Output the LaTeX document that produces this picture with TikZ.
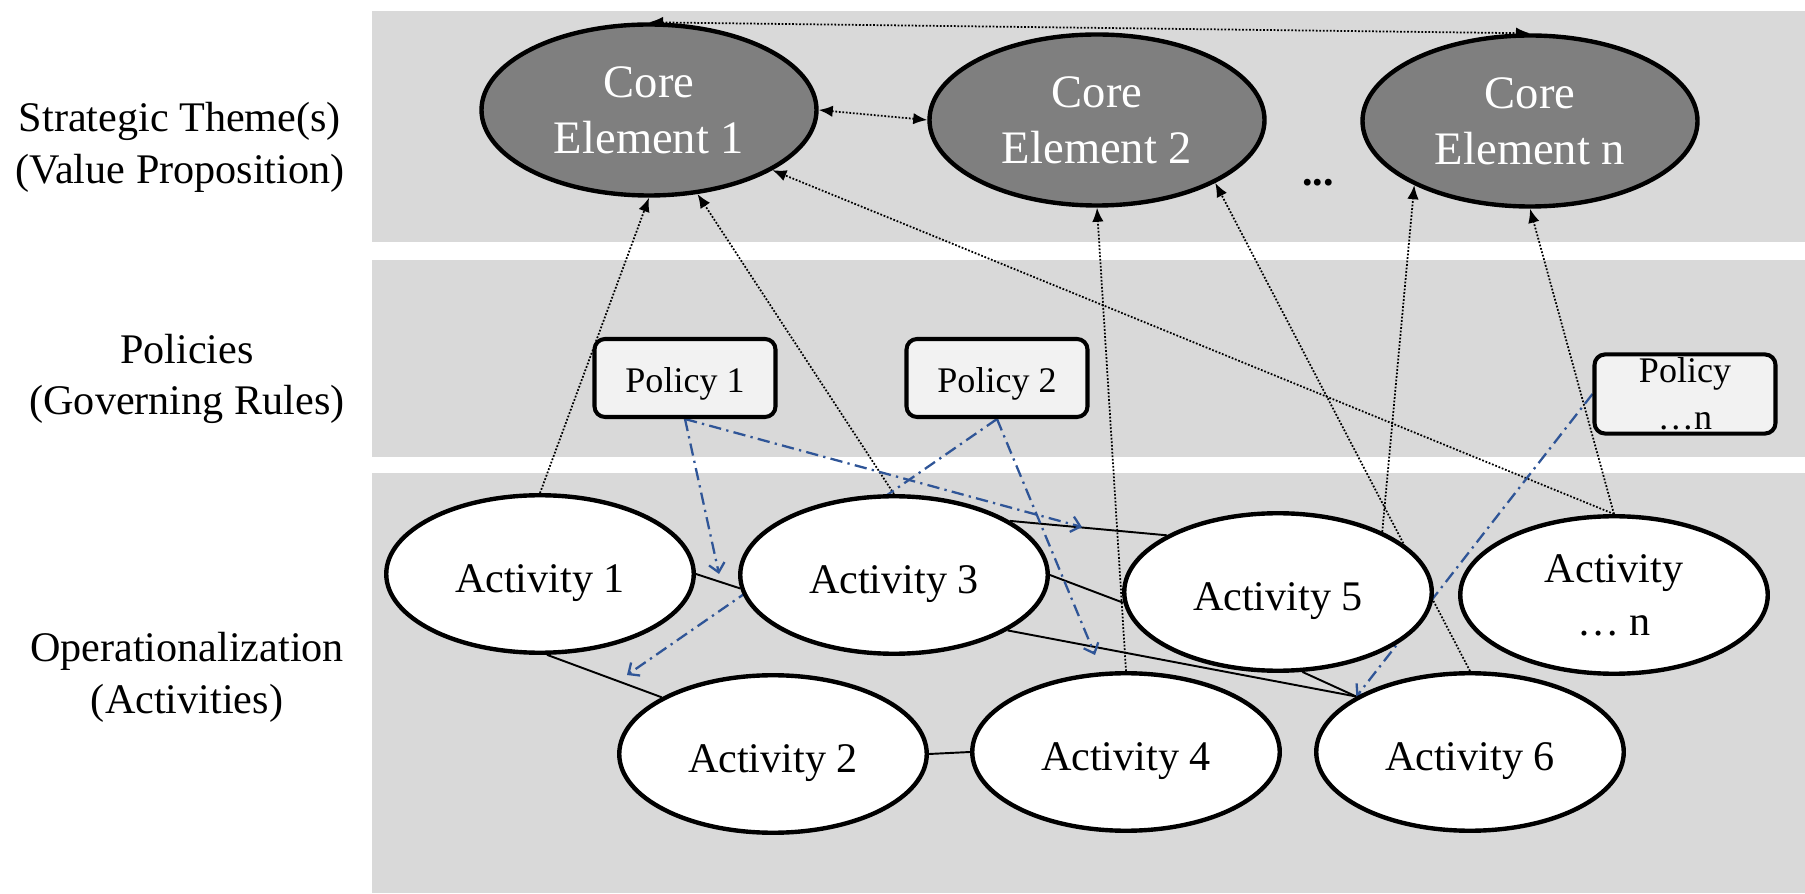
\documentclass[tikz,border=0pt]{standalone}
\usepackage{xcolor}
\usepackage{fontspec}
\setmainfont{Liberation Serif}
\usepackage{tikz}
\usetikzlibrary{arrows.meta}
\usetikzlibrary{shapes.geometric, backgrounds}
\definecolor{bandgray}{RGB}{217,217,217}
\definecolor{coregray}{RGB}{127,127,127}
\definecolor{policygray}{RGB}{242,242,242}
\definecolor{policyblue}{RGB}{47,85,151}
\pgfdeclarelayer{bands}
\pgfdeclarelayer{links}
\pgfsetlayers{bands,links,main}
\tikzset{
band/.style = { fill = bandgray, draw = none },
core/.style = { ellipse, draw = black, line width = 2.5pt, fill = coregray, text = white, minimum width = 6.7cm, minimum height = 3.42cm, align = center, font = \fontsize{26.5}{32}\selectfont },
activity/.style = { ellipse, draw = black, line width = 2.5pt, fill = white, minimum width = 6.15cm, minimum height = 3.15cm, align = center, font = \fontsize{24}{30}\selectfont },
one line/.style = { text height = 26pt, text depth = 5pt },
policy/.style = { rectangle, draw = black, line width = 2.3pt, fill = policygray, minimum width = 3.62cm, minimum height = 1.56cm, rounded corners = 6pt, inner sep = 2pt, align = center, font = \fontsize{20.5}{26.5}\selectfont },
layer label/.style = { align = center, font = \fontsize{24}{29.5}\selectfont },
}
\tikzset{
link/.style = { line width = 1pt, dash pattern = on 1pt off 1pt, -{Latex[length = 8pt, width = 6.5pt]} },
both link/.style = { line width = 1pt, dash pattern = on 1pt off 1pt, {Latex[length = 8pt, width = 6.5pt]}-{Latex[length = 8pt, width = 6.5pt]} },
tie/.style = { line width = 1.1pt },
governs/.style = { draw = policyblue, line width = 1.3pt, dash pattern = on 7pt off 3pt on 1.3pt off 3pt, -{Straight Barb[length = 5pt, width = 9pt]} },
}

\begin{document}
\begin{tikzpicture}
      \useasboundingbox (0,0) rectangle (36.1,17.86);
      \begin{pgfonlayer}{bands}
        \fill[band] (7.44,13.02) rectangle (36.1,17.64);
        \fill[band] (7.44,8.72) rectangle (36.1,12.66);
        \fill[band] (7.44,0) rectangle (36.1,8.4);
      \end{pgfonlayer}
      \node[layer label] (lstrat) at (3.6,14.92) {Strategic Theme(s)\\(Value Proposition)};
      \node[layer label] (lpol) at (3.74,10.28) {Policies\\(Governing Rules)};
      \node[layer label] (lop) at (3.74,4.32) {Operationalization\\(Activities)};
      \node[core] (core1) at (12.98,15.66) {Core\\Element 1};
      \node[core] (core2) at (21.94,15.46) {Core\\Element 2};
      \node[core] (coren) at (30.6,15.44) {Core\\Element n};
      \node[font = \fontsize{24}{29}\selectfont\bfseries] (cdots) at (26.36,14.2) {...};
      \node[policy, text height = 20.5pt, text depth = 4.5pt] (pol1) at (13.7,10.3) {Policy 1};
      \node[policy, text height = 20.5pt, text depth = 4.5pt] (pol2) at (19.94,10.3) {Policy 2};
      \node[policy] (poln) at (33.7,9.98) {Policy\\…n};
      \node[activity, one line] (act1) at (10.8,6.38) {Activity 1};
      \node[activity, one line] (act3) at (17.88,6.36) {Activity 3};
      \node[activity, one line] (act5) at (25.56,6.02) {Activity 5};
      \node[activity] (actn) at (32.28,5.96) {Activity\\… n};
      \node[activity, one line] (act2) at (15.46,2.78) {Activity 2};
      \node[activity, one line] (act4) at (22.52,2.82) {Activity 4};
      \node[activity, one line] (act6) at (29.4,2.82) {Activity 6};
      \coordinate (t1) at (14.38,6.38);
      \coordinate (t2) at (21.64,7.32);
      \coordinate (t3) at (12.54,4.36);
      \coordinate (t4) at (21.9,4.76);
      \begin{pgfonlayer}{links}
        \draw[both link] (core1.north) -- (coren.north);
        \draw[both link] (core1.east) -- (core2.west);
        \draw[link] (act1.north) -- (core1.south);
        \draw[link] (act3.north) -- (core1.300);
        \draw[link] (actn.north) -- (core1.334);
        \draw[link] (act4.north) -- (core2.south);
        \draw[link] (act6.north) -- (core2.332);
        \draw[link] (act5.30) -- (coren.209);
        \draw[link] (actn.north) -- (coren.south);
        \draw[tie] (act1.east) -- (act3.185);
        \draw[tie] (act1.275) -- (act2.153);
        \draw[tie] (act2.east) -- (act4.west);
        \draw[tie] (act3.25) -- (act5.153);
        \draw[tie] (act3.east) -- (act5.184);
        \draw[tie] (act3.334) -- (act6.154);
        \draw[tie] (act5.287) -- (act6.154);
        \draw[governs] (pol1.south) -- (t1);
        \draw[governs] (pol1.south) -- (t2);
        \draw[governs] (pol2.south) -- (t3);
        \draw[governs] (pol2.south) -- (t4);
        \draw[governs] (poln.west) -- (act6.154);
      \end{pgfonlayer}
\end{tikzpicture}
\end{document}
